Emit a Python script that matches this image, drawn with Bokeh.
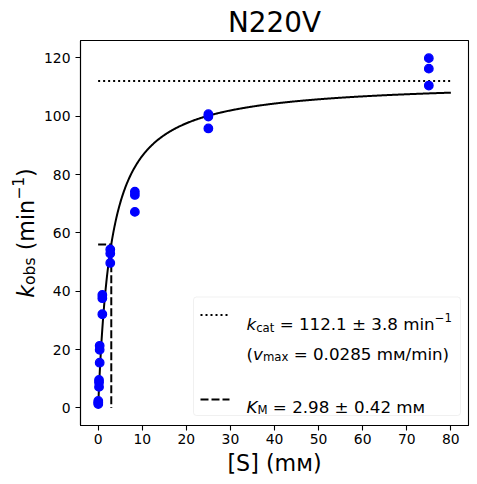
import numpy as np
from bokeh.plotting import figure
from bokeh.layouts import row
from bokeh.models import Label, BoxAnnotation, Arrow, FixedTicker, Range1d
from bokeh.embed import file_html
from bokeh.resources import INLINE

# ---------------- data ----------------
title_text = "N220V"
S_mM = [0.03, 0.03, 0.03,
        0.2, 0.2, 0.2,
        0.35, 0.35, 0.35,
        0.95, 0.95, 0.95,
        2.75, 2.75, 2.75,
        8.33, 8.33, 8.33,
        25.0, 25.0, 25.0,
        75.0, 75.0, 75.0]
kobs = [1.3, 1.8, 2.4,
        7.2, 8.7, 9.6,
        15.5, 19.9, 21.3,
        32.1, 37.6, 38.7,
        49.7, 52.9, 54.3,
        67.2, 73.0, 74.1,
        95.8, 99.9, 100.7,
        110.5, 116.3, 119.9]
KCAT = 112.1      # min^-1
KM = 2.98         # mM
S_MAX_FIT = 80.0
x_ticks = [0, 10, 20, 30, 40, 50, 60, 70, 80]
y_ticks = [0, 20, 40, 60, 80, 100, 120]
x_label = "[S] (mᴍ)"
legend_row1 = [("k", "i"), ("cat", "sub"), (" = 112.1 ± 3.8 min", "n"), ("−1", "sup")]
legend_row2 = [("(", "n"), ("v", "i"), ("max", "sub"), (" = 0.0285 mᴍ/min)", "n")]
legend_row4 = [("K", "i"), ("M", "sub"), (" = 2.98 ± 0.42 mᴍ", "n")]
ylabel_parts = [("k", "i"), ("obs", "sub"), (" (min", "n"), ("−1", "sup"), (")", "n")]

# ---------------- style ----------------
FONT = "DejaVu Sans"
FW, FH = 388, 385
TOP = 40
YL_W = 40
TICK_FS = 13.9
LAB_FS = 22.2
LEG_FS = 16.7
TITLE_FS = 27.8

p = figure(frame_width=FW, frame_height=FH,
           x_range=Range1d(-4, 84), y_range=Range1d(-6.03, 125.95),
           output_backend="svg", toolbar_location=None,
           min_border_left=40, min_border_right=4, min_border_top=TOP, min_border_bottom=50,
           background_fill_color="white", border_fill_color="white")
p.grid.visible = False
p.outline_line_color = "black"
p.outline_line_width = 1.1

p.title.text = title_text
p.title.align = "center"
p.title.text_font = FONT
p.title.text_font_size = f"{TITLE_FS}px"
p.title.text_font_style = "normal"
p.title.text_color = "black"
p.title.standoff = 4

for ax in (p.xaxis[0], p.yaxis[0]):
    ax.axis_line_color = "black"
    ax.axis_line_width = 1.1
    ax.major_tick_line_color = "black"
    ax.major_tick_line_width = 1.1
    ax.major_tick_out = 5
    ax.major_tick_in = 0
    ax.minor_tick_out = 0
    ax.minor_tick_in = 0
    ax.major_label_text_font = FONT
    ax.major_label_text_font_size = f"{TICK_FS}px"
    ax.major_label_text_color = "black"
    ax.major_label_standoff = 5
p.xaxis.major_label_standoff = 3

p.xaxis.ticker = FixedTicker(ticks=x_ticks)
p.yaxis.ticker = FixedTicker(ticks=y_ticks)
p.xaxis.axis_label = x_label
p.xaxis.axis_label_text_font = FONT
p.xaxis.axis_label_text_font_size = f"{LAB_FS}px"
p.xaxis.axis_label_text_font_style = "normal"
p.xaxis.axis_label_text_color = "black"
p.xaxis.axis_label_standoff = 3

# ---------------- marks ----------------
s_fit = np.linspace(0, S_MAX_FIT, 600)
v_fit = KCAT * s_fit / (KM + s_fit)

p.line([0, S_MAX_FIT], [KCAT, KCAT], line_color="black", line_width=2, line_dash="2 3")
p.line([0, KM, KM], [KCAT / 2, KCAT / 2, 0], line_color="black", line_width=2, line_dash="8 3")
p.line(s_fit, v_fit, line_color="black", line_width=2)
p.scatter(S_mM, kobs, size=8.5, fill_color="blue", line_color="blue", line_width=1.3)

# ---------------- text helpers ----------------
W = {' ': .318, '(': .390, ')': .390, '[': .390, ']': .390, 'm': .974, 'i': .278, 'n': .634,
     'o': .612, 'b': .635, 's': .521, 'c': .550, 'a': .613, 't': .392, 'x': .592, 'k': .579,
     'v': .592, 'K': .656, 'M': .863, '.': .318, '=': .838, '±': .838, '−': .838, '/': .337,
     'ᴍ': .76, 'S': .635}
for d in "0123456789":
    W[d] = .636


def tw(s, fs):
    return sum(W.get(ch, 0.6) for ch in s) * fs


def rich(fig, parts, x0, y0, fs, vertical=False):
    pos = 0.0
    for txt, kind in parts:
        size = fs * (0.7 if kind in ("sub", "sup") else 1.0)
        shift = {"sub": -0.21 * fs, "sup": 0.36 * fs}.get(kind, 0.0)
        lead = len(txt) - len(txt.lstrip(" "))
        pos += tw(" " * lead, size)
        core = txt.strip(" ")
        if vertical:
            x, y, ang = x0 - shift, y0 + pos, np.pi / 2
        else:
            x, y, ang = x0 + pos, y0 + shift, 0.0
        fig.add_layout(Label(x=x, y=y, x_units="screen", y_units="screen", text=core, angle=ang,
                             text_font=FONT, text_font_size=f"{size:.2f}px",
                             text_font_style="italic" if kind == "i" else "normal",
                             text_color="black", text_align="left", text_baseline="alphabetic"))
        pos += tw(core, size)


# legend
p.add_layout(BoxAnnotation(left=113, right=380, top=128.5, bottom=10,
                           left_units="screen", right_units="screen",
                           top_units="screen", bottom_units="screen",
                           fill_color="white", fill_alpha=0.8,
                           line_color="#cccccc", line_width=1, border_radius=3))
p.add_layout(Arrow(end=None, x_start=120, y_start=110.5, x_end=148, y_end=110.5,
                   start_units="screen", end_units="screen",
                   line_color="black", line_width=2, line_dash="2 3"))
p.add_layout(Arrow(end=None, x_start=120, y_start=26, x_end=149, y_end=26,
                   start_units="screen", end_units="screen",
                   line_color="black", line_width=2, line_dash="8 3"))
rich(p, legend_row1, 166, 101.5, LEG_FS)
rich(p, legend_row2, 166, 72, LEG_FS)
rich(p, legend_row4, 166, 19, LEG_FS)

# y-axis label in a narrow companion figure
yl = figure(frame_width=YL_W, frame_height=FH, x_range=Range1d(0, 1), y_range=Range1d(0, 1),
            output_backend="svg", toolbar_location=None,
            x_axis_location=None, y_axis_location=None,
            min_border_left=0, min_border_right=0, min_border_top=TOP, min_border_bottom=0,
            background_fill_color="white", border_fill_color="white")
yl.grid.visible = False
yl.outline_line_color = None
total = 0.0
for t, k in ylabel_parts:
    total += tw(t, LAB_FS * (0.7 if k in ("sub", "sup") else 1.0))
rich(yl, ylabel_parts, 25, FH / 2 - total / 2, LAB_FS, vertical=True)

layout = row(yl, p, spacing=0)
open("out.html", "w").write(file_html(layout, INLINE))
